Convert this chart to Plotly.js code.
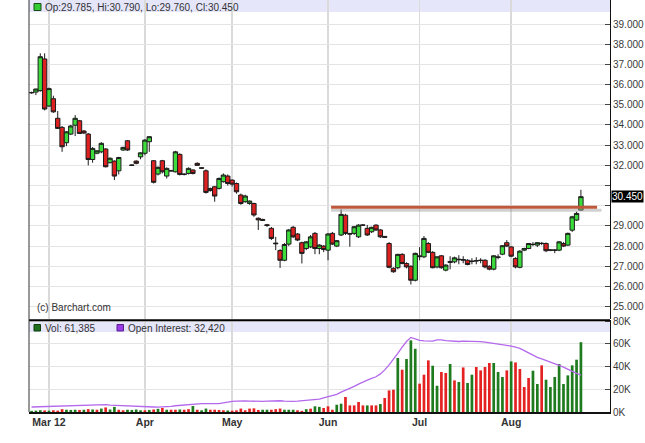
<!DOCTYPE html>
<html>
<head>
<meta charset="utf-8">
<script src="https://cdn.plot.ly/plotly-3.0.1.min.js"></script>
<style>html,body{margin:0;padding:0;background:#fff;}#chart{width:645px;height:443px;}</style>
</head>
<body>
<div id="chart"></div>
<script>
// ---------------- DATA ----------------
const open = [35.60,35.63,35.70,37.27,34.94,35.30,34.33,33.88,33.12,33.55,
33.99,34.21,33.70,33.55,32.29,32.60,32.67,32.81,32.13,32.21,
31.73,32.76,33.22,32.02,32.21,32.42,32.60,33.17,32.23,31.57,
32.23,31.47,31.73,31.68,32.54,31.57,31.60,31.77,32.10,31.88,
31.73,30.85,30.94,30.86,31.19,31.47,31.27,31.10,30.53,30.20,
30.11,30.11,29.38,29.32,29.06,28.88,28.15,27.78,27.30,28.10,
28.93,28.60,28.17,27.88,27.96,28.63,27.88,28.00,27.80,28.63,
28.00,28.55,29.53,28.62,28.63,28.46,29.04,28.88,28.71,29.04,
28.80,28.48,28.13,26.90,26.93,27.59,27.14,27.00,26.31,27.52,
27.47,28.13,27.69,26.97,27.52,26.81,27.24,27.22,27.35,27.33,
27.30,27.26,27.28,27.30,27.30,27.00,26.86,27.46,27.60,28.17,
27.96,27.39,26.95,27.80,27.88,28.09,28.05,28.14,28.13,27.81,
27.80,27.80,28.13,28.05,28.79,29.29,29.785];
const high = [35.65,35.80,37.55,37.55,35.85,35.45,34.69,33.95,33.70,34.00,
34.49,34.25,33.75,33.60,32.90,32.75,33.15,32.85,32.40,32.25,
32.42,32.92,33.25,32.05,32.25,32.65,33.30,33.45,32.25,31.95,
32.27,31.90,31.78,32.72,32.60,31.60,31.90,31.80,32.15,31.90,
31.80,30.90,30.98,31.40,31.60,31.55,31.30,31.15,30.60,30.55,
30.26,30.15,29.42,29.36,29.10,28.95,28.46,27.85,28.15,28.85,
29.00,28.65,28.22,28.25,28.55,28.70,28.10,28.05,28.65,28.70,
28.30,29.82,29.60,28.66,29.00,29.08,29.08,29.05,28.96,29.08,
28.85,28.50,28.20,26.95,27.62,27.65,27.20,27.05,27.68,27.95,
28.50,28.20,27.75,27.50,27.56,27.10,27.50,27.48,27.55,27.50,
27.35,27.40,27.45,27.40,27.35,27.05,27.55,27.60,28.05,28.30,
28.00,27.45,27.80,27.92,28.15,28.20,28.20,28.20,28.18,27.85,
27.85,28.25,28.20,28.67,29.50,29.70,30.79];
const low = [35.55,35.48,35.65,34.72,34.90,34.60,33.80,32.67,32.95,33.50,
33.45,33.55,33.55,32.00,32.13,32.55,32.60,31.90,32.10,31.27,
31.55,32.72,32.72,31.98,32.05,32.30,32.50,32.67,31.10,31.50,
31.60,31.35,31.70,31.65,31.50,31.50,31.55,31.55,31.98,31.82,
30.60,30.70,30.20,30.80,31.15,31.00,30.95,30.60,30.05,30.15,
30.05,29.45,28.80,29.25,28.95,28.30,27.80,26.92,27.25,28.00,
28.40,28.25,27.14,27.80,27.90,27.60,27.60,27.70,27.30,28.05,
27.95,28.50,28.55,27.97,28.55,28.40,29.00,28.50,28.65,28.75,
28.40,28.40,26.90,26.68,26.85,27.10,26.90,26.10,26.25,27.30,
27.40,27.65,26.90,26.90,26.88,26.75,26.85,27.15,27.10,27.15,
27.05,27.10,27.10,27.15,26.90,26.80,26.80,27.35,27.55,27.95,
27.45,26.90,26.90,27.75,27.85,28.00,27.95,28.05,27.70,27.75,
27.65,27.75,27.95,28.00,28.70,29.25,29.76];
const close = [35.60,35.78,37.38,34.79,35.80,34.65,33.83,32.92,33.66,33.95,
34.33,33.58,33.60,32.29,32.84,32.72,33.09,31.93,32.35,31.47,
32.39,32.89,32.76,32.00,32.10,32.62,33.25,33.42,31.16,31.90,
31.68,31.85,31.73,32.67,31.55,31.55,31.85,31.60,32.00,31.86,
30.66,30.75,30.48,31.35,31.52,31.10,31.07,30.69,30.11,30.48,
30.23,29.54,29.30,29.28,29.02,28.38,28.12,27.30,28.08,28.80,
28.46,28.30,27.64,28.21,28.46,27.88,28.05,27.83,28.60,28.10,
28.27,29.57,28.63,28.60,28.96,29.04,29.04,28.55,28.93,28.80,
28.46,28.44,26.95,26.73,27.59,27.14,26.97,26.31,27.64,27.48,
28.38,27.69,26.93,27.47,26.93,27.06,27.20,27.42,27.33,27.31,
27.09,27.24,27.27,27.29,26.97,26.86,27.52,27.45,28.02,28.00,
27.50,26.97,27.75,27.88,28.13,28.08,28.17,28.13,27.77,27.80,
27.80,28.21,28.00,28.63,29.45,29.62,30.45];
const volume = [1000,1200,1600,1400,1200,1500,1200,2500,2000,1800,
2000,1800,2000,2500,2200,2000,3000,4000,2200,4500,
2000,1500,2000,1800,2200,1500,1500,1800,2200,2800,
3500,2000,2000,2000,2200,2000,2500,5300,2000,1500,
3000,2000,2000,1800,1500,1300,1200,1500,3000,1500,
3000,3200,1800,2000,2000,2000,2500,3000,2000,2000,
2000,1500,1000,2500,2900,5000,4500,3500,5000,2000,
6400,7300,13200,5800,5800,8800,5800,5800,5800,5800,
7000,12300,19000,19600,47500,37200,46600,63000,55600,24900,
32800,45400,40700,23100,35200,34300,42200,27800,26400,39200,
25500,32800,39600,36600,39600,43100,43100,35200,30800,36600,
44500,43600,37800,22000,29900,36300,24600,41000,28400,22000,
30800,42200,24600,32200,41000,46000,61385];
// u = volume bar drawn green (up), d = red (down)
const volumeDirection = ("uuudu" + "dddu" + "uudud" + "udud" + "uuddu" + "uuudu" + "dudud" + "duddu" +
  "duuddddu" + "dddddddu" + "udddu" + "uud" +
  "duduuddduudddddudduddduduuudddu" + "uddududuud" + "ddduuudud" + "ddduuduuuu").split("");
const openInterest = [4400,4500,4600,4800,4900,5000,5200,5300,5500,5600,
5800,6000,6100,6300,6500,6600,6700,6400,6000,5800,
5600,5300,5000,4800,4600,4500,4400,4400,4400,4300,
4400,4500,5000,5500,5800,6300,7000,7200,7300,7300,
7300,7200,7300,7400,8000,8800,9300,9600,9900,9800,
9600,9400,9300,9300,9500,9800,10200,9900,9600,9300,
9300,9500,9800,10000,10300,10800,11400,12500,13500,14000,
15500,17500,19000,21000,22500,24500,26500,28000,29500,31000,
33500,37000,41500,46000,51500,57000,62000,65600,64000,63000,
62500,62300,62300,63500,63500,62700,62300,62300,62000,62300,
62300,62200,62000,61800,61500,61000,60500,59800,59000,58500,
58000,57000,56000,54000,52000,50000,48000,46800,45500,44000,
42500,41000,39500,37500,36000,34000,32420];
// trading-day index of each month's first session, and its label
const monthTickIndex = [5, 27, 47, 69, 90, 111];
const monthLabels = ["Mar 12", "Apr", "May", "Jun", "Jul", "Aug"];
const priceTicks = [25,26,27,28,29,30,31,32,33,34,35,36,37,38,39];
const volumeTicks = [0, 20000, 40000, 60000, 80000];
// drawn resistance line: [start day index, end day index, price]
const resistanceLine = [69.7, 130.7, 29.93];

// ---------------- BUILD ----------------
const n = close.length;
const dayIndex = close.map((_, i) => i + 1);
const last = n - 1;
const volColors = volumeDirection.slice(0, n).map(d => d === "u" ? "#1e7b1e" : "#e52222");
while (volColors.length < n) volColors.push("#1e7b1e");

const FONT = "Liberation Sans, Arial, sans-serif";
const PX = px => (px - 29) / 581;
const PY = py => (412 - py) / 412;
const fmt = v => Math.round(v).toLocaleString("en-US");

const candles = {
  type: "candlestick", x: dayIndex, open: open, high: high, low: low, close: close,
  xaxis: "x", yaxis: "y",
  increasing: {line: {color: "#1c1c1c", width: 1}, fillcolor: "#3ddc3d"},
  decreasing: {line: {color: "#1c1c1c", width: 1}, fillcolor: "#dd2020"},
  whiskerwidth: 0, hoverinfo: "skip", showlegend: false
};
const volBars = {
  type: "bar", x: dayIndex, y: volume, xaxis: "x", yaxis: "y2",
  marker: {color: volColors, line: {width: 0}}, width: 0.62,
  hoverinfo: "skip", showlegend: false
};
const oiLine = {
  type: "scatter", mode: "lines", x: dayIndex, y: openInterest, xaxis: "x", yaxis: "y2",
  line: {color: "#b469ec", width: 1.3}, hoverinfo: "skip", showlegend: false
};

const lastPrice = close[last];
const priceText = priceTicks.map(v => Math.abs(v - lastPrice) < 0.6 ? "" : v.toFixed(3));
const volText = volumeTicks.map(v => (v / 1000) + "K");

const layout = {
  width: 645, height: 443,
  margin: {l: 29, r: 35, t: 0, b: 31},
  paper_bgcolor: "#ffffff", plot_bgcolor: "rgba(0,0,0,0)",
  font: {family: FONT, size: 10, color: "#333"},
  showlegend: false,
  boxgap: 0,
  boxgroupgap: 0,
  bargap: 0.3,
  xaxis: {
    anchor: "y2", range: [0.413, 133.67], rangeslider: {visible: false},
    tickvals: monthTickIndex, ticktext: monthLabels, ticks: "",
    tickfont: {family: FONT, size: 10.5, color: "#333", weight: "bold"},
    showgrid: true, gridcolor: "#dadada", gridwidth: 1.6,
    showline: true, linecolor: "#111", linewidth: 1.5, zeroline: false, fixedrange: true
  },
  yaxis: {
    domain: [(412 - 319) / 412, 1], range: [24.39, 40.19], side: "right", anchor: "x",
    tickvals: priceTicks, ticktext: priceText, ticks: "inside", ticklen: 5, tickcolor: "#444",
    tickfont: {family: FONT, size: 10, color: "#3a3a3a"},
    showgrid: true, gridcolor: "#e4e4e4", gridwidth: 1,
    showline: true, linecolor: "#111", linewidth: 1, zeroline: false, fixedrange: true
  },
  yaxis2: {
    domain: [0, (412 - 320) / 412], range: [0, 80900], side: "right", anchor: "x",
    tickvals: volumeTicks, ticktext: volText, ticks: "inside", ticklen: 5, tickcolor: "#444",
    tickfont: {family: FONT, size: 10, color: "#3a3a3a"},
    showgrid: true, gridcolor: "#e4e4e4", gridwidth: 1,
    showline: true, linecolor: "#111", linewidth: 1, zeroline: false, fixedrange: true
  },
  yaxis3: {
    overlaying: "y2", side: "left", anchor: "x", range: [0, 80900],
    tickvals: volumeTicks, ticktext: volText, ticks: "inside", ticklen: 3, tickcolor: "#444",
    tickfont: {family: FONT, size: 10, color: "#3a3a3a"},
    showgrid: false, showline: false, zeroline: false, fixedrange: true
  },
  shapes: [
    {type: "rect", xref: "paper", yref: "paper", x0: 0, x1: 1, y0: PY(12), y1: 1,
     fillcolor: "#e6e6fb", line: {width: 0}, layer: "below"},
    {type: "rect", xref: "paper", yref: "paper", x0: 0, x1: 1, y0: PY(332), y1: PY(321),
     fillcolor: "#e6e6fb", line: {width: 0}, layer: "below"},
    {type: "line", xref: "paper", yref: "paper", x0: 0, x1: 1, y0: PY(320.3), y1: PY(320.3),
     line: {color: "#000", width: 2}},
    {type: "line", xref: "paper", yref: "paper", x0: 0, x1: 0, y0: 0, y1: 1,
     line: {color: "#333", width: 1}},
    {type: "line", xref: "x", yref: "y", x0: resistanceLine[0], x1: resistanceLine[1] + 1,
     ysizemode: "pixel", yanchor: resistanceLine[2], y0: -3, y1: -3,
     line: {color: "rgba(150,150,150,0.45)", width: 3}},
    {type: "line", xref: "x", yref: "y", x0: resistanceLine[0], x1: resistanceLine[1],
     y0: resistanceLine[2], y1: resistanceLine[2],
     line: {color: "#c0583c", width: 3}},
    {type: "rect", xref: "paper", yref: "paper", x0: PX(34), x1: PX(41), y0: PY(10.5), y1: PY(3.5),
     fillcolor: "#33cc33", line: {color: "#1a4d1a", width: 1}},
    {type: "rect", xref: "paper", yref: "paper", x0: PX(34), x1: PX(40.5), y0: PY(331), y1: PY(324.5),
     fillcolor: "#1e6e1e", line: {color: "#0d3d0d", width: 1}},
    {type: "rect", xref: "paper", yref: "paper", x0: PX(117), x1: PX(123.5), y0: PY(331), y1: PY(324.5),
     fillcolor: "#9a3be8", line: {color: "#5a1a90", width: 1}}
  ],
  annotations: [
    {xref: "paper", yref: "paper", x: PX(43), y: PY(7.5), xanchor: "left", yanchor: "middle",
     showarrow: false, font: {family: FONT, size: 10, color: "#333"},
     text: "Op:" + open[last].toFixed(3) + ", Hi:" + high[last].toFixed(3) + ", Lo:" + low[last].toFixed(3) + ", Cl:" + close[last].toFixed(3)},
    {xref: "paper", yref: "paper", x: PX(43), y: PY(328), xanchor: "left", yanchor: "middle",
     showarrow: false, font: {family: FONT, size: 10, color: "#333"},
     text: "Vol: " + fmt(volume[last])},
    {xref: "paper", yref: "paper", x: PX(126), y: PY(328), xanchor: "left", yanchor: "middle",
     showarrow: false, font: {family: FONT, size: 10, color: "#333"},
     text: "Open Interest: " + fmt(openInterest[last])},
    {xref: "paper", yref: "paper", x: PX(35), y: PY(307.5), xanchor: "left", yanchor: "middle",
     showarrow: false, font: {family: FONT, size: 10, color: "#333"},
     text: "(c) Barchart.com"},
    {xref: "paper", yref: "y", x: 1, xshift: 1, y: lastPrice, xanchor: "left", yanchor: "middle",
     showarrow: false, bgcolor: "#000", borderpad: 0, font: {family: FONT, size: 10, color: "#fff"},
     text: lastPrice.toFixed(3)}
  ]
};

Plotly.newPlot("chart", [volBars, oiLine, candles], layout, {staticPlot: true, displayModeBar: false});
</script>
</body>
</html>
